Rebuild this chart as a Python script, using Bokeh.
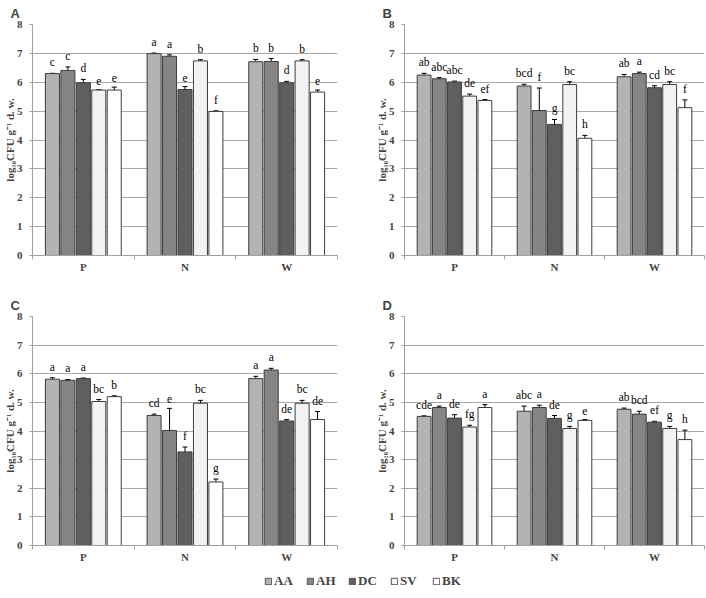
import numpy as np
from bokeh.plotting import figure
from bokeh.models import ColumnDataSource, Whisker, TeeHead, FixedTicker, Legend, LegendItem, Range1d
from bokeh.layouts import column, row
from bokeh.embed import file_html
from bokeh.resources import INLINE
from bokeh.core.properties import value

groups = ["P", "N", "W"]
series = ["AA", "AH", "DC", "SV", "BK"]
colors = ["#b3b3b3", "#858585", "#5f5f5f", "#f2f2f2", "#ffffff"]

A_mean = [[6.30, 6.41, 5.98, 5.73, 5.73], [6.99, 6.90, 5.75, 6.74, 4.99], [6.71, 6.72, 5.98, 6.74, 5.66]]
A_err = [[0.01, 0.12, 0.12, 0.01, 0.10], [0.02, 0.05, 0.10, 0.04, 0.02], [0.08, 0.10, 0.05, 0.04, 0.07]]
A_sig = [["c", "c", "d", "e", "e"], ["a", "a", "e", "b", "f"], ["b", "b", "d", "b", "e"]]

B_mean = [[6.25, 6.12, 6.01, 5.52, 5.37], [5.87, 5.02, 4.54, 5.92, 4.06], [6.19, 6.30, 5.81, 5.92, 5.12]]
B_err = [[0.06, 0.04, 0.03, 0.07, 0.03], [0.06, 0.78, 0.17, 0.10, 0.10], [0.08, 0.05, 0.07, 0.10, 0.27]]
B_sig = [["ab", "abc", "abc", "de", "ef"], ["bcd", "f", "g", "bc", "h"], ["ab", "a", "cd", "bc", "f"]]

C_mean = [[5.81, 5.77, 5.83, 5.03, 5.20], [4.54, 4.02, 3.27, 4.97, 2.22], [5.83, 6.13, 4.35, 4.97, 4.40]]
C_err = [[0.05, 0.03, 0.02, 0.07, 0.03], [0.05, 0.77, 0.17, 0.10, 0.10], [0.08, 0.06, 0.05, 0.10, 0.28]]
C_sig = [["a", "a", "a", "bc", "b"], ["cd", "e", "f", "bc", "g"], ["a", "a", "de", "bc", "de"]]

D_mean = [[4.51, 4.82, 4.45, 4.14, 4.82], [4.69, 4.82, 4.44, 4.09, 4.37], [4.76, 4.59, 4.31, 4.09, 3.70]]
D_err = [[0.02, 0.05, 0.12, 0.06, 0.10], [0.18, 0.08, 0.10, 0.07, 0.03], [0.04, 0.10, 0.03, 0.07, 0.33]]
D_sig = [["cde", "a", "de", "fg", "a"], ["abc", "a", "de", "g", "e"], ["ab", "bcd", "ef", "g", "h"]]

SERIF = "Liberation Serif"
SANS = "Liberation Sans"
SERIF_V = value(SERIF)
STEP = 0.152
BAR_W = 0.138


def panel(letter, mean, err, sig, fw, fh, right, top, bottom, standoff):
    p = figure(frame_width=fw, frame_height=fh, min_border_left=24, min_border_right=right,
               min_border_top=top, min_border_bottom=bottom,
               x_range=Range1d(0, 3), y_range=Range1d(0, 8),
               output_backend="svg", toolbar_location=None, title=letter)
    p.title.text_font = SANS
    p.title.text_font_size = "13px"
    p.title.text_font_style = "bold"
    p.title.offset = -22
    p.title.standoff = standoff
    p.outline_line_color = None
    p.background_fill_color = "white"
    p.border_fill_color = "white"

    xs, tops, lows, highs, fills, txt = [], [], [], [], [], []
    for gi, g in enumerate(groups):
        for si, s in enumerate(series):
            xs.append(gi + 0.5 + (si - 2) * STEP)
            tops.append(mean[gi][si])
            lows.append(mean[gi][si] - err[gi][si])
            highs.append(mean[gi][si] + err[gi][si])
            fills.append(colors[si])
            txt.append(sig[gi][si])
    src = ColumnDataSource(dict(x=xs, top=tops, low=lows, high=highs, fill=fills, txt=txt))
    p.vbar(x="x", top="top", bottom=0, width=BAR_W, fill_color="fill",
           line_color="#3c3c3c", line_width=1, source=src)
    w = Whisker(source=src, base="x", upper="high", lower="low", dimension="height",
                line_color="black", line_width=1,
                upper_head=TeeHead(size=5, line_color="black", line_width=1),
                lower_head=TeeHead(size=5, line_color="black", line_width=1))
    p.add_layout(w)
    p.text(x="x", y="high", text="txt", source=src, text_align="center",
           text_baseline="bottom", y_offset=-5, text_font=SERIF_V, text_font_size="11.5px",
           text_color="black")

    p.xgrid.visible = False
    p.ygrid.grid_line_color = "#a8a8a8"
    p.ygrid.ticker = FixedTicker(ticks=list(range(0, 9)))

    ya = p.yaxis[0]
    ya.ticker = FixedTicker(ticks=list(range(0, 9)))
    ya.axis_label = "log\u2081\u2080CFU g\u207b\u00b9 d. w."
    ya.axis_label_text_font = SERIF
    ya.axis_label_text_font_style = "bold"
    ya.axis_label_text_font_size = "11px"
    ya.axis_label_standoff = -2
    ya.major_label_text_font = SERIF
    ya.major_label_text_font_style = "bold"
    ya.major_label_text_font_size = "11px"
    ya.major_label_standoff = 7
    ya.major_tick_out = 3
    ya.major_tick_in = 0
    ya.minor_tick_out = 0
    ya.minor_tick_in = 0
    ya.axis_line_color = "#a0a0a0"
    ya.major_tick_line_color = "#a0a0a0"

    xa = p.xaxis[0]
    xa.ticker = FixedTicker(ticks=[0.5, 1.5, 2.5], minor_ticks=[0, 1, 2, 3])
    xa.major_label_overrides = {0.5: groups[0], 1.5: groups[1], 2.5: groups[2]}
    xa.major_label_text_font = SERIF
    xa.major_label_text_font_style = "bold"
    xa.major_label_text_font_size = "11px"
    xa.major_label_standoff = 1
    xa.major_tick_line_color = None
    xa.major_tick_out = 0
    xa.major_tick_in = 0
    xa.minor_tick_out = 4
    xa.minor_tick_in = 0
    xa.minor_tick_line_color = "#a0a0a0"
    xa.axis_line_color = "#a0a0a0"
    return p


pa = panel("A", A_mean, A_err, A_sig, 305, 231, 35, 21, 37, 7)
pb = panel("B", B_mean, B_err, B_sig, 300, 231, 2, 21, 37, 7)
pc = panel("C", C_mean, C_err, C_sig, 305, 229, 35, 24, 17, 7)
pd = panel("D", D_mean, D_err, D_sig, 300, 229, 2, 24, 17, 7)

lg = figure(width=690, height=23, x_range=Range1d(0, 1), y_range=Range1d(0, 1),
            output_backend="svg", toolbar_location=None, min_border=0)
lg.axis.visible = False
lg.grid.visible = False
lg.outline_line_color = None
items = []
for s, c in zip(series, colors):
    r = lg.vbar(x=np.array([np.nan]), bottom=np.array([np.nan]), top=np.array([np.nan]),
                width=0.1, fill_color=c, line_color="#555555")
    items.append(LegendItem(label=s, renderers=[r]))
leg = Legend(items=items, orientation="horizontal", location=(264, -1),
             label_text_font=SERIF, label_text_font_style="bold", label_text_font_size="13px",
             glyph_width=8, glyph_height=8, label_standoff=2, spacing=12, padding=0, margin=0,
             border_line_color=None, background_fill_alpha=0)
lg.add_layout(leg, "center")

layout = column(row(pa, pb), row(pc, pd), lg)
open("out.html", "w").write(file_html(layout, INLINE))
